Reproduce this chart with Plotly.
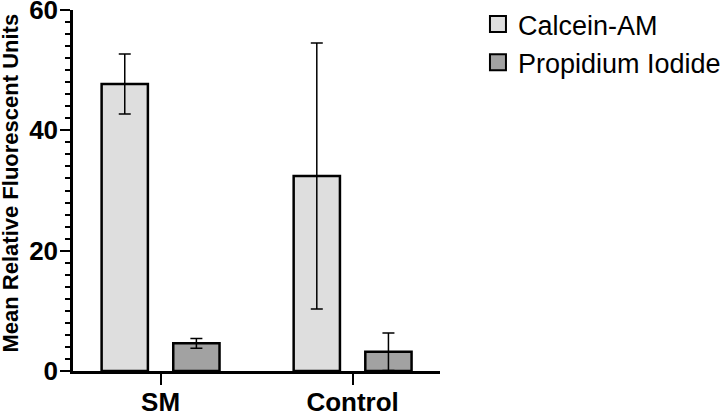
import plotly.graph_objects as go

categories = ["SM", "Control"]
calcein_mean = [47.7, 32.4]
calcein_err = [5.0, 22.1]
pi_mean = [4.6, 3.2]
pi_err = [0.8, 3.1]
series_names = ["Calcein-AM", "Propidium Iodide"]
y_title = "Mean Relative Fluorescent Units"
y_ticks = [0, 20, 40, 60]

FONT = "Liberation Sans, Arial, sans-serif"
c1 = "#dedede"
c2 = "#a2a2a2"

fig = go.Figure()
for name, vals, errs, col in [(series_names[0], calcein_mean, calcein_err, c1),
                              (series_names[1], pi_mean, pi_err, c2)]:
    fig.add_trace(go.Bar(
        x=categories, y=vals, name=name, showlegend=False,
        marker=dict(color=col, line=dict(color="black", width=2.5)),
        error_y=dict(type="data", array=errs, visible=True, color="black",
                     thickness=1.5, width=6),
    ))
    # legend-only entry with a larger swatch
    fig.add_trace(go.Scatter(
        x=[None], y=[None], mode="markers", name=name,
        marker=dict(symbol="square", size=16, color=col,
                    line=dict(color="black", width=2)),
    ))

fig.update_layout(
    template="none",
    width=722, height=415,
    margin=dict(l=73, r=282, t=10, b=44, pad=0),
    paper_bgcolor="white", plot_bgcolor="white",
    barmode="group", bargap=0.254, bargroupgap=0.354,
    font=dict(family=FONT, color="black"),
    legend=dict(xref="container", yref="container", x=0.662, y=1.003,
                xanchor="left", yanchor="top",
                font=dict(size=27, family=FONT, color="black"),
                itemsizing="trace", bgcolor="rgba(0,0,0,0)"),
)
fig.update_xaxes(
    type="category", range=[-0.456, 1.455], automargin=False,
    showline=True, linecolor="black", linewidth=2.5,
    ticks="outside", ticklen=11, tickwidth=2, tickcolor="black",
    tickfont=dict(size=26, family=FONT, color="black", weight="bold"),
    ticklabeloverflow="allow", ticklabelstandoff=-5,
    showgrid=False, zeroline=False,
)
fig.update_yaxes(
    range=[0, 60], tickvals=y_ticks, automargin=False,
    showline=True, linecolor="black", linewidth=2.5,
    ticks="outside", ticklen=10, tickwidth=2, tickcolor="black",
    tickfont=dict(size=26, family=FONT, color="black", weight="bold"),
    ticklabeloverflow="allow", ticklabelstandoff=-3,
    minor=dict(dtick=2, ticks="outside", ticklen=5, tickwidth=2, tickcolor="black", showgrid=False),
    showgrid=False, zeroline=False,
)
fig.add_annotation(
    text=y_title, xref="paper", yref="paper",
    x=(10 - 73) / 367, y=(371 - 183.5) / 361,
    xanchor="center", yanchor="middle", textangle=-90, showarrow=False,
    font=dict(size=22, family=FONT, color="black", weight="bold"),
)

fig.write_html("out.html", config={"displayModeBar": False},
               post_script="document.body.style.margin='0';")
